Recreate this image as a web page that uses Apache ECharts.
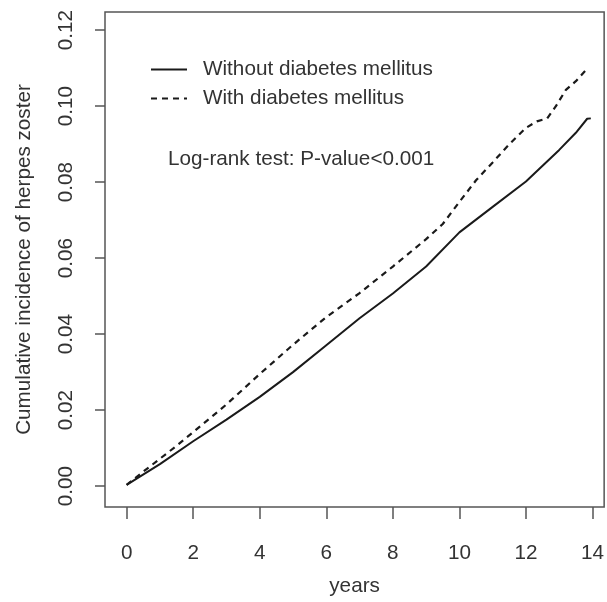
<!DOCTYPE html>
<html>
<head>
<meta charset="utf-8">
<script src="https://cdn.jsdelivr.net/npm/echarts@6/dist/echarts.min.js"></script>
<style>
  html, body { margin: 0; padding: 0; background: #fff; }
  #chart { width: 607px; height: 602px; }
</style>
</head>
<body>
<div id="chart"></div>
<script>
// cumulative incidence
const solidYears = [0, 1, 2, 3, 4, 5, 6, 7, 8, 9, 10, 11, 12, 13, 13.5, 13.84, 13.95];
const solidVals  = [0.0003, 0.0058, 0.0118, 0.0175, 0.0235, 0.0300, 0.0371, 0.0442, 0.0507, 0.0578, 0.0668, 0.0735, 0.0802, 0.0885, 0.0930, 0.0967, 0.0968];
const dashedYears = [0, 0.5, 1, 1.5, 2, 3, 4, 5, 6, 7, 8, 9, 9.5, 10, 10.5, 11, 11.5, 12, 12.33, 12.64, 12.9, 13.2, 13.5, 13.79];
const dashedVals  = [0.0003, 0.0038, 0.0072, 0.0106, 0.0142, 0.0215, 0.0295, 0.0372, 0.0445, 0.0508, 0.0578, 0.0650, 0.0690, 0.0748, 0.0805, 0.0852, 0.0900, 0.0943, 0.0960, 0.0968, 0.1000, 0.1043, 0.1066, 0.1094];
const xTicks = [0, 2, 4, 6, 8, 10, 12, 14];
const yTicks = [0, 0.02, 0.04, 0.06, 0.08, 0.10, 0.12];
const seriesNames = ['Without diabetes mellitus', 'With diabetes mellitus'];
const noteText = 'Log-rank test: P-value<0.001';

document.addEventListener('DOMContentLoaded', function(){
  var chart = echarts.init(document.getElementById('chart'));
  var font = '"Liberation Sans", Arial, sans-serif';
  var txt = '#333';
  var fs = 20.7;
  var pairs = (xs, ys) => xs.map((x, i) => [x, ys[i]]);

  chart.setOption({
    backgroundColor: '#fff',
    animation: false,
    title: {
      text: noteText,
      left: 163, top: 144,
      textStyle: { color: txt, fontSize: fs, fontWeight: 'normal', fontFamily: font }
    },
    legend: {
      data: seriesNames,
      orient: 'vertical',
      left: 145, top: 54,
      itemWidth: 36, itemHeight: 20, itemGap: 8,
      itemStyle: { opacity: 0 },
      textStyle: { color: txt, fontSize: fs, fontFamily: font, padding: [0, 0, 0, 11] }
    },
    grid: {
      show: true, left: 105, right: 2, top: 12, bottom: 84,
      borderColor: '#555', borderWidth: 1.5, backgroundColor: 'transparent'
    },
    xAxis: {
      type: 'value', min: -0.65, max: 14.35,
      name: 'years', nameLocation: 'middle', nameGap: 69,
      nameTextStyle: { color: txt, fontSize: fs, fontFamily: font },
      axisLine: { show: false, onZero: false },
      splitLine: { show: false },
      axisTick: { show: true, inside: false, customValues: xTicks, length: 12, lineStyle: { color: '#555', width: 1.5 } },
      axisLabel: { customValues: xTicks, color: txt, fontSize: fs, fontFamily: font, margin: 36 }
    },
    yAxis: {
      type: 'value', min: -0.0055, max: 0.1248,
      name: 'Cumulative incidence of herpes zoster', nameLocation: 'middle', nameGap: 70,
      nameTextStyle: { color: txt, fontSize: fs, fontFamily: font },
      axisLine: { show: false, onZero: false },
      splitLine: { show: false },
      axisTick: { show: true, inside: false, customValues: yTicks, length: 10, lineStyle: { color: '#555', width: 1.5 } },
      axisLabel: {
        customValues: yTicks, rotate: 90, color: txt, fontSize: fs, fontFamily: font, margin: 28,
        formatter: v => v.toFixed(2)
      }
    },
    series: [{
      name: seriesNames[0],
      type: 'line',
      showSymbol: false, symbol: 'none',
      lineStyle: { color: '#1a1a1a', width: 2 },
      itemStyle: { color: '#1a1a1a' },
      data: pairs(solidYears, solidVals)
    }, {
      name: seriesNames[1],
      type: 'line',
      showSymbol: false, symbol: 'none',
      lineStyle: { color: '#1a1a1a', width: 2.2, type: [6, 5] },
      itemStyle: { color: '#1a1a1a' },
      data: pairs(dashedYears, dashedVals)
    }]
  });
});
</script>
</body>
</html>
